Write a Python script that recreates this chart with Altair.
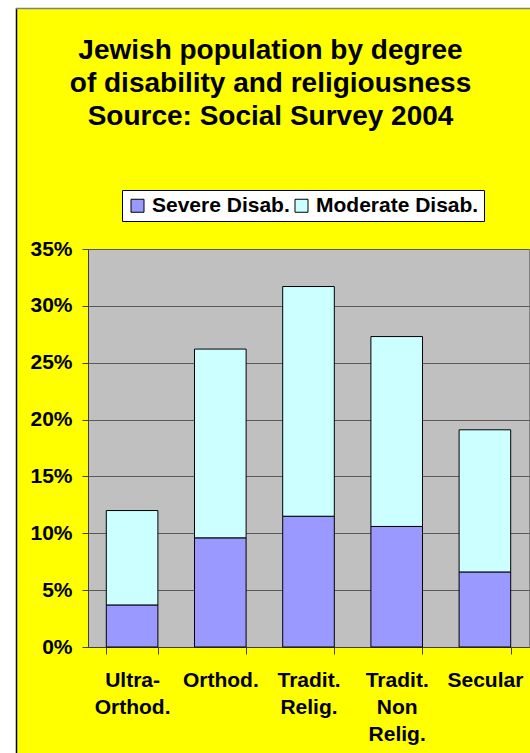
import altair as alt
import pandas as pd

# Religiousness groups (line breaks mark how the axis labels wrap)
categories = ["Ultra-\nOrthod.", "Orthod.", "Tradit.\nRelig.", "Tradit.\nNon\nRelig.", "Secular"]
series = ["Severe Disab.", "Moderate Disab."]
severe = [3.7, 9.6, 11.5, 10.6, 6.6]
moderate = [8.3, 16.6, 20.2, 16.7, 12.5]
y_ticks = [0, 5, 10, 15, 20, 25, 30, 35]
title_lines = [
    "Jewish population by degree",
    "of disability and religiousness",
    "Source: Social Survey 2004",
]

rows = []
for i, cat in enumerate(categories):
    rows.append({"group": cat, "degree": series[0], "order": 0, "pct": severe[i]})
    rows.append({"group": cat, "degree": series[1], "order": 1, "pct": moderate[i]})
df = pd.DataFrame(rows)

FONT = "Liberation Sans"
W, H = 441, 398

bars = (
    alt.Chart(df)
    .mark_bar(stroke="black", strokeWidth=1)
    .encode(
        x=alt.X(
            "group:N",
            sort=categories,
            scale=alt.Scale(paddingInner=0.415, paddingOuter=0.2075),
            axis=alt.Axis(
                title=None,
                labelAngle=0,
                labelExpr="split(datum.label, '\\n')",
                labelLineHeight=27,
                labelFontSize=21,
                labelFontWeight="bold",
                labelFont=FONT,
                labelColor="black",
                labelPadding=15,
                tickSize=7,
                tickColor="#404040",
                tickBand="extent",
                domainColor="#404040",
                grid=False,
            ),
        ),
        y=alt.Y(
            "pct:Q",
            stack="zero",
            scale=alt.Scale(domain=[0, 35], nice=False),
            axis=alt.Axis(
                title=None,
                values=y_ticks,
                labelExpr="datum.value + '%'",
                labelFontSize=21,
                labelFontWeight="bold",
                labelFont=FONT,
                labelColor="black",
                labelPadding=10,
                tickSize=6,
                tickColor="#404040",
                domainColor="#404040",
                gridColor="#5a5a5a",
                gridWidth=1,
            ),
        ),
        color=alt.Color(
            "degree:N",
            sort=series,
            scale=alt.Scale(domain=series, range=["#9999FF", "#CCFFFF"]),
            legend=alt.Legend(
                title=None,
                orient="none",
                legendX=34,
                legendY=-59,
                direction="horizontal",
                fillColor="white",
                strokeColor="black",
                padding=5,
                symbolType="square",
                symbolSize=169,
                symbolStrokeColor="black",
                symbolStrokeWidth=1,
                labelFontSize=21,
                labelFontWeight="bold",
                labelFont=FONT,
                labelColor="black",
                labelLimit=400,
                labelOffset=4,
                columnPadding=1,
            ),
        ),
        order=alt.Order("order:Q"),
    )
)

# White page margin around the yellow chart area, with its border lines
margin = pd.DataFrame({"k": [0]})
left_strip = alt.Chart(margin).mark_rect(color="white").encode(
    x=alt.value(-88), x2=alt.value(-72), y=alt.value(-249), y2=alt.value(H + 106)
)
top_strip = alt.Chart(margin).mark_rect(color="white").encode(
    x=alt.value(-88), x2=alt.value(W + 1), y=alt.value(-249), y2=alt.value(-241)
)
left_edge = alt.Chart(margin).mark_rule(color="black", strokeWidth=1.5).encode(
    x=alt.value(-71.5), y=alt.value(-241), y2=alt.value(H + 106)
)
top_edge = alt.Chart(margin).mark_rule(color="#808080", strokeWidth=1.5).encode(
    x=alt.value(-72), x2=alt.value(W + 1), y=alt.value(-240.5)
)

chart = (
    alt.layer(bars, left_strip, top_strip, left_edge, top_edge)
    .properties(
        width=W,
        height=H,
        autosize=alt.AutoSizeParams(type="none"),
        padding={"left": 88, "top": 249, "right": 1, "bottom": 106},
        background="#FFFF00",
        title=alt.Title(
            title_lines,
            fontSize=28,
            fontWeight="bold",
            font=FONT,
            color="black",
            lineHeight=33,
            anchor="middle",
            align="center",
            dx=-38,
            dy=131,
            offset=0,
        ),
    )
    .configure_view(fill="#C0C0C0", stroke="#808080", strokeWidth=1)
)

chart.save("out.html", embed_options={"renderer": "svg", "actions": False})
